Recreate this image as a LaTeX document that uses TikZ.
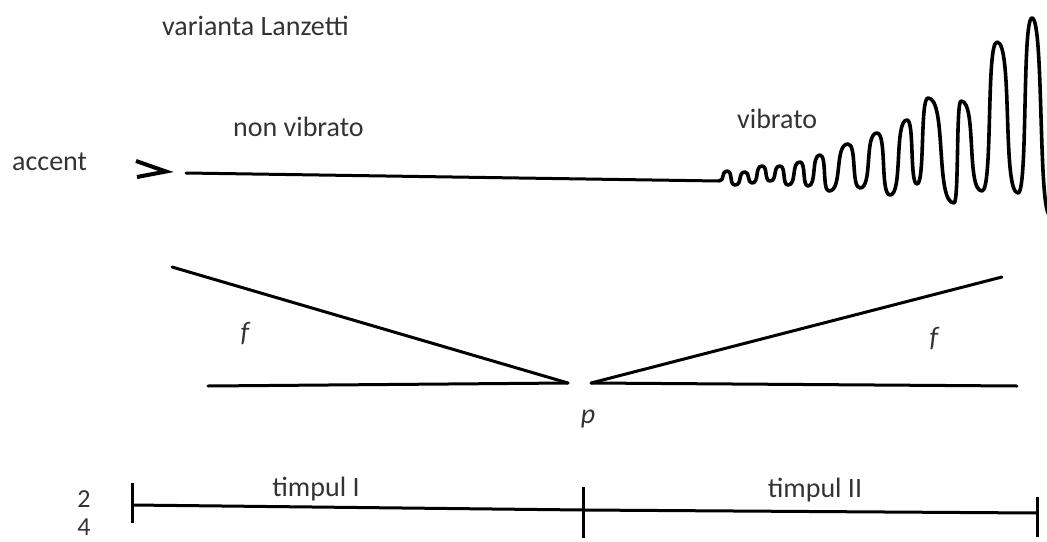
\documentclass[tikz,border=0pt]{standalone}
\usepackage{fontspec}
\setmainfont{Carlito}
\definecolor{txt}{HTML}{333333}
\tikzset{
  lbl/.style={text=txt, font=\fontsize{28}{34}\selectfont, inner sep=0pt},
  num/.style={text=txt, font=\fontsize{26}{30}\selectfont, inner sep=0pt},
  dyn/.style={text=txt, font=\fontsize{28}{34}\selectfont\itshape, inner sep=0pt},
  stroke/.style={line width=3pt, line cap=round},
  wave/.style={line width=3.6pt, line cap=round, line join=round},
}
\newcommand{\hump}[3]{.. controls +(#1,0) and +(-#1,0) .. (#2,#3)}
\begin{document}
\begin{tikzpicture}[x=1pt,y=-1pt]
\useasboundingbox (0,0) rectangle (1047,541);
% texts
\node[lbl, anchor=base west] (title) at (162,35) {varianta Lanzetti};
\node[lbl, anchor=base west] (accent) at (12,170) {accent};
\node[lbl, anchor=base west] (nonvib) at (233,136) {non vibrato};
\node[lbl, anchor=base west] (vib) at (737,128) {vibrato};
\node[dyn, anchor=base] (fL) at (245,341) {f};
\node[dyn, anchor=base] (fR) at (934,346) {f};
\node[dyn, anchor=base] (p) at (588,423) {p};
\node[lbl, anchor=base] (t1) at (316,496) {timpul I};
\node[lbl, anchor=base] (t2) at (815,497) {timpul II};
\node[num] (two) at (84,499) {2};
\node[num] (four) at (84,527) {4};
% accent mark
\coordinate (a1) at (136,161);
\coordinate (a2) at (166,171.5);
\coordinate (a3) at (137,177);
\draw[line width=4pt, line join=miter] (a1) -- (a2) -- (a3);
% non vibrato line
\coordinate (nv1) at (186,173);
\coordinate (nv2) at (719,181);
\draw[stroke] (nv1) -- (nv2);
% vibrato wave
\draw[wave] (nv2)
 \hump{6}{727}{171} \hump{6}{735}{185} \hump{7.5}{745}{172} \hump{5}{752}{183}
 \hump{7.5}{762}{166} \hump{6}{770}{181} \hump{7.5}{780}{166} \hump{6}{788}{185}
 \hump{9}{800}{162} \hump{6}{808}{186} \hump{9}{820}{155} \hump{7}{829}{191}
 \hump{14}{848}{144} \hump{9}{860}{188} \hump{13}{877}{133} \hump{10}{890}{195}
 \hump{13}{907}{120} \hump{7.5}{917}{184} \hump{8}{928}{98} \hump{19}{954}{203}
 \hump{5}{961}{101} \hump{16}{982}{191} \hump{11}{997}{42} \hump{16}{1018}{193}
 \hump{10}{1032}{18} \hump{12}{1050}{215};
% hairpins
\coordinate (lu) at (172,267);
\coordinate (ll) at (208,386);
\coordinate (lapex) at (568,383);
\coordinate (rapex) at (591,383);
\coordinate (ru) at (1002,277);
\coordinate (rl) at (1017,386);
\draw[stroke] (lu) -- (lapex);
\draw[stroke] (ll) -- (lapex);
\draw[stroke] (rapex) -- (ru);
\draw[stroke] (rapex) -- (rl);
% timeline
\coordinate (s0) at (132,505);
\coordinate (s1) at (583,510);
\coordinate (s2) at (1037,513);
\coordinate (k0a) at (132,483); \coordinate (k0b) at (132,523);
\coordinate (k1a) at (583,487); \coordinate (k1b) at (583,538);
\coordinate (k2a) at (1037,497); \coordinate (k2b) at (1037,537);
\draw[stroke, line cap=butt] (s0) -- (s1) -- (s2);
\draw[stroke, line cap=butt] (k0a) -- (k0b);
\draw[stroke, line cap=butt] (k1a) -- (k1b);
\draw[stroke, line cap=butt] (k2a) -- (k2b);
\end{tikzpicture}
\end{document}
